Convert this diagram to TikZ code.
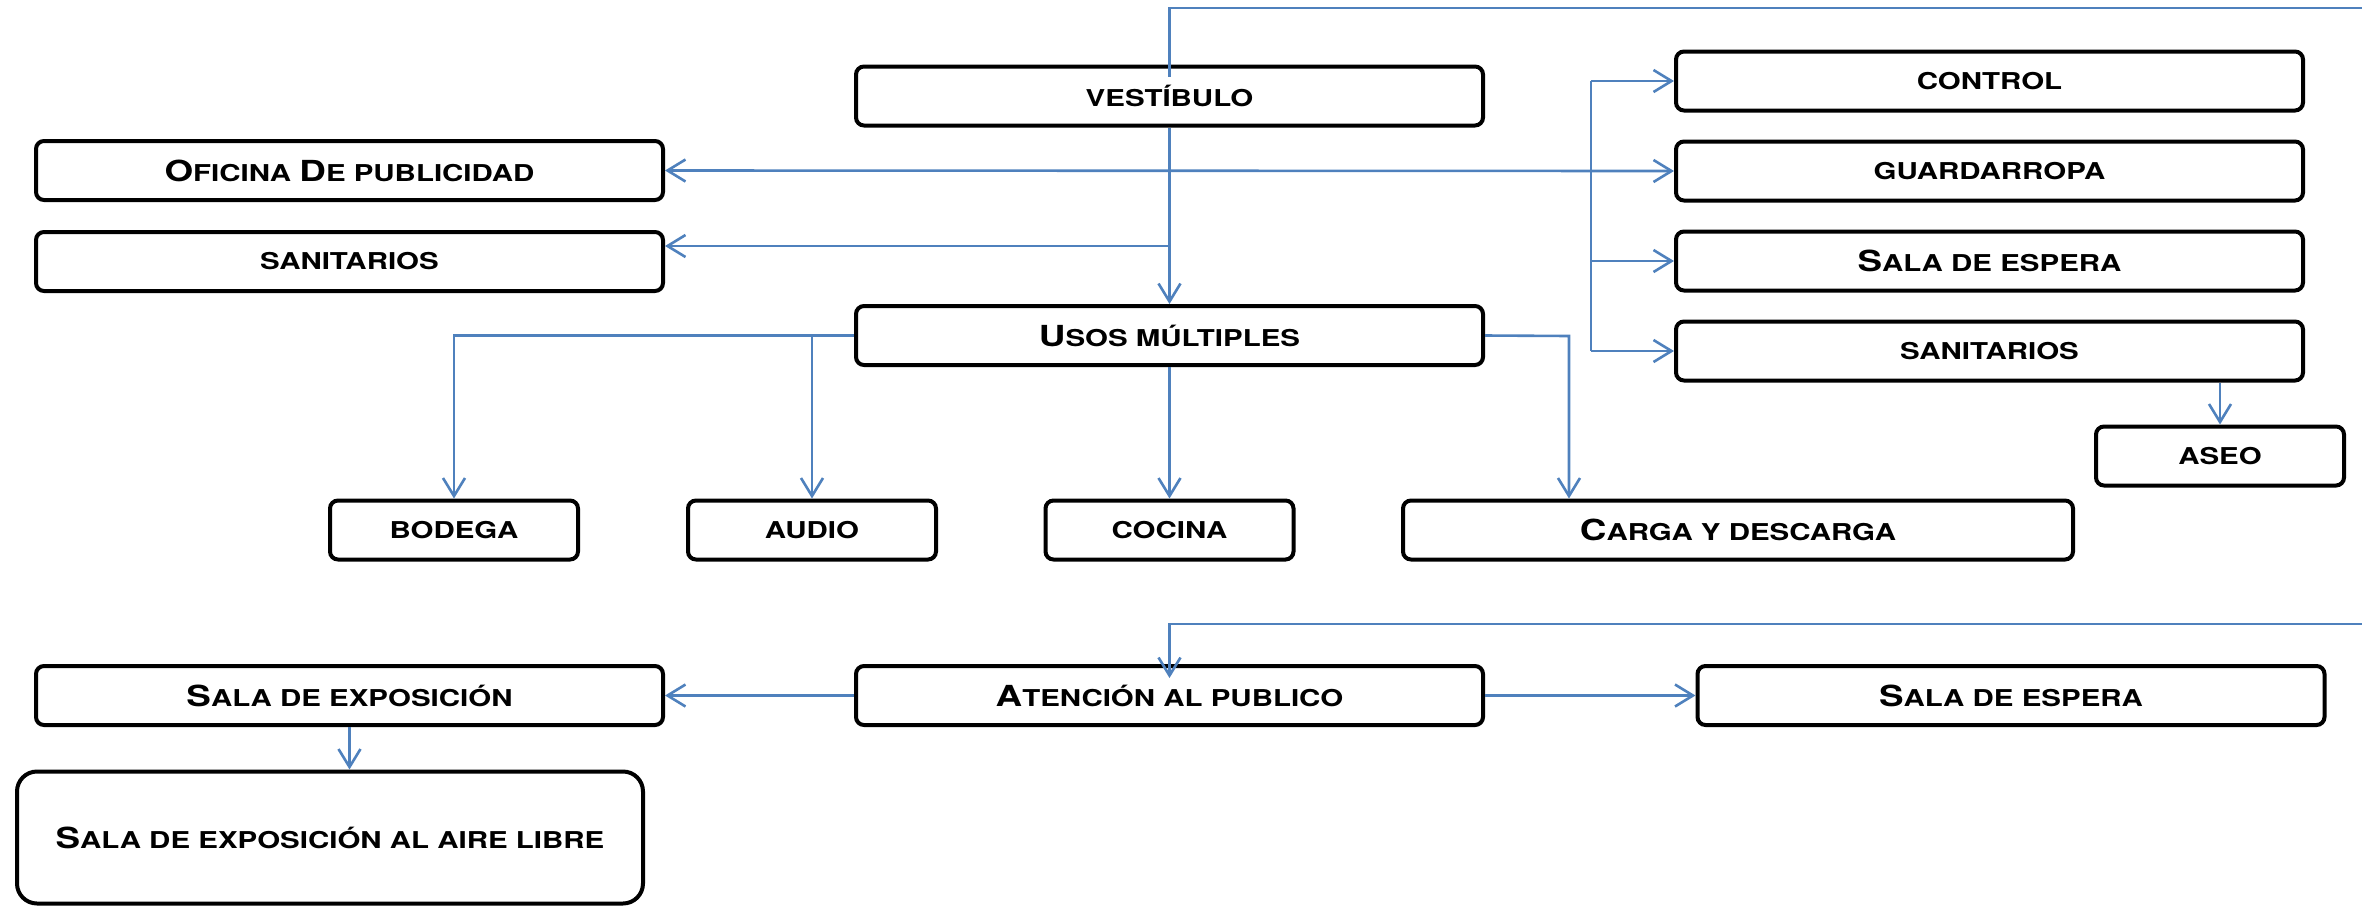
\documentclass[tikz,border=0pt]{standalone}
\usepackage{fontspec}
\newfontfamily\labelfont{TeX Gyre Heros}[FakeStretch=1.27]
\usetikzlibrary{arrows.meta}
\definecolor{linkblue}{RGB}{79,129,189}
\newcommand\C[1]{{\fontsize{14.5}{16}\selectfont #1}}
\tikzset{
  box/.style={draw=black, line width=2pt, rounded corners=4pt, fill=white, align=center, inner sep=0pt,
    font=\labelfont\bfseries\fontsize{11.6}{14}\selectfont},
  wide/.style={box, minimum width=313.5pt, minimum height=29.5pt},
  short/.style={box, minimum width=124pt, minimum height=29.5pt},
  line/.style={draw=linkblue, line width=1.3pt},
  conn/.style={line, -{Straight Barb[length=9pt,width=11pt]}},
}
\begin{document}
\begin{tikzpicture}[x=0.5pt,y=-0.5pt]
\useasboundingbox (0,0) rectangle (2362,906);
% nodes
\node[wide] (vest) at (1169.5,96) {VESTÍBULO};
\node[wide] (ofi) at (349.5,170.5) {\C{O}FICINA \C{D}E PUBLICIDAD};
\node[wide] (sanL) at (349.5,261.5) {SANITARIOS};
\node[wide] (usos) at (1169.5,335.5) {\C{U}SOS MÚLTIPLES};
\node[wide] (control) at (1989.5,81) {CONTROL};
\node[wide] (guard) at (1989.5,171) {GUARDARROPA};
\node[wide] (salaR) at (1989.5,261) {\C{S}ALA DE ESPERA};
\node[wide] (sanR) at (1989.5,351) {SANITARIOS};
\node[short] (aseo) at (2220,456) {ASEO};
\node[short] (bodega) at (454,530) {BODEGA};
\node[short] (audio) at (812,530) {AUDIO};
\node[short] (cocina) at (1169.5,530) {COCINA};
\node[box, minimum width=335pt, minimum height=29.5pt] (carga) at (1738,530) {\C{C}ARGA Y DESCARGA};
\node[wide] (salaExp) at (349.5,695.5) {\C{S}ALA DE EXPOSICIÓN};
\node[wide] (aten) at (1169.5,695.5) {\C{A}TENCIÓN AL PUBLICO};
\node[wide] (salaB) at (2011,695.5) {\C{S}ALA DE ESPERA};
\node[box, rounded corners=10pt, minimum width=313pt, minimum height=66pt] (aire) at (330,837.5) {\C{S}ALA DE EXPOSICIÓN AL AIRE LIBRE};
% connectors
\coordinate (tr) at (2362,8);
\draw[line] (tr) -| ([yshift=-6pt]vest.north);
\draw[conn] (vest.south) -- (usos.north);
\draw[conn, {Straight Barb[length=9pt,width=11pt]}-{Straight Barb[length=9pt,width=11pt]}] (ofi.east) -- (guard.west);
\coordinate (j1) at (1169.5,246);
\draw[conn] (j1) -- (j1 -| sanL.east);
\coordinate (bt) at (1591,81);
\coordinate (bb) at (1591,351);
\draw[line] (bt) -- (bb);
\draw[conn] (bt) -- (control.west);
\draw[conn] (bt |- salaR.west) -- (salaR.west);
\draw[conn] (bb) -- (sanR.west);
\draw[conn] (sanR.south -| aseo.north) -- (aseo.north);
\draw[conn] (usos.west) -| (bodega.north);
\draw[conn] (audio.north |- usos.west) -- (audio.north);
\draw[conn] (usos.south) -- (cocina.north);
\coordinate (cr) at (1569,336);
\draw[conn] (usos.east) -- (cr) -- (cr |- carga.north);
\coordinate (brr) at (2362,624);
\draw[conn] (brr) -| ([yshift=-7pt]aten.north);
\draw[conn] (aten.west) -- (salaExp.east);
\draw[conn] (aten.east) -- (salaB.west);
\draw[conn] (salaExp.south) -- (salaExp.south |- aire.north);
\end{tikzpicture}
\end{document}
